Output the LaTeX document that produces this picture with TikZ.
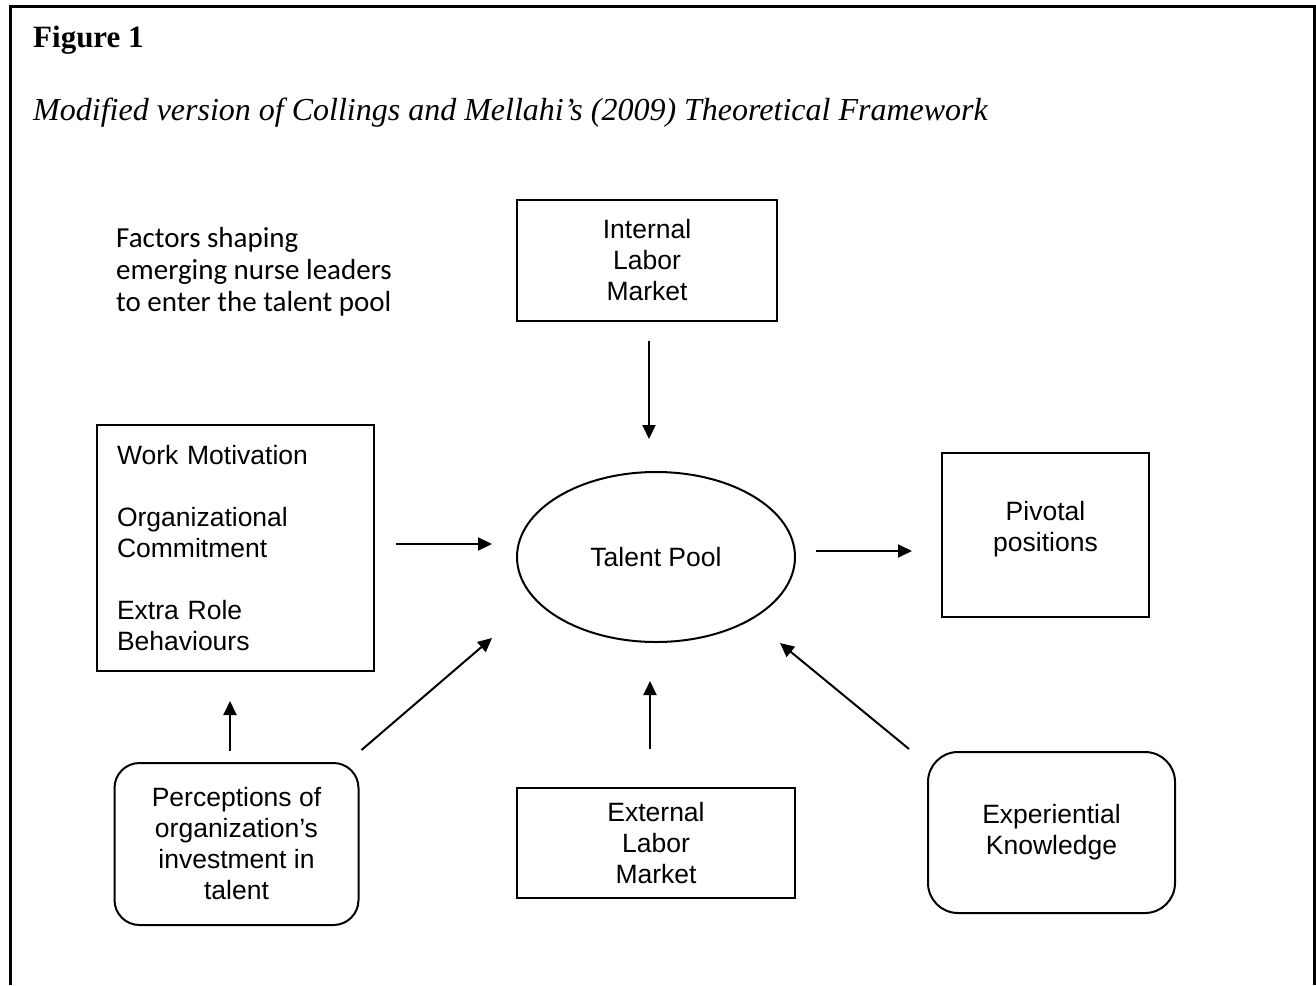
\documentclass[tikz,border=0pt]{standalone}
\usepackage{fontspec}
\setmainfont{Liberation Serif}
\newfontfamily\arialf{Liberation Sans}
\newfontfamily\calibf{Carlito}
\usetikzlibrary{arrows.meta,shapes.geometric}
\begin{document}
\begin{tikzpicture}[x=1pt,y=1pt,
  box/.style={draw, line width=2pt, align=center, inner sep=0pt,
    font=\arialf\fontsize{26.5}{31}\selectfont},
  rbox/.style={box, rounded corners=25pt},
  arr/.style={line width=2pt, -{Triangle[length=14pt,width=13pt]}},
  frame/.style={line width=3pt}
  ]
\useasboundingbox (0,0) rectangle (1316,-985);
\draw[frame] (10,-985) -- (10,-6) -- (1314.5,-6) -- (1314.5,-985);

\node[anchor=base west, inner sep=0pt, font=\bfseries\fontsize{31}{36}\selectfont] (fig) at (33,-47) {Figure 1};
\node[anchor=base west, inner sep=0pt, font=\itshape\fontsize{32}{38}\selectfont] (title) at (33,-120) {Modified version of Collings and Mellahi’s (2009) Theoretical Framework};

\node[anchor=west, align=left, inner sep=0pt, font=\calibf\fontsize{29}{32}\selectfont] (fac) at (116,-272) {Factors shaping\\emerging nurse leaders\\to enter the talent pool};

\node[box, minimum width=260, minimum height=121] (ilm) at (647,-260.5) {Internal\\Labor\\Market};
\node[box, minimum width=277, minimum height=246, align=left, text width=237] (wm) at (235.5,-548) {Work Motivation\\[31pt]Organizational\\Commitment\\[31pt]Extra Role\\Behaviours};
\node[draw, ellipse, line width=2pt, minimum width=278, minimum height=170, inner sep=0pt,
  font=\arialf\fontsize{26.5}{31}\selectfont] (tp) at (656,-557) {Talent Pool};
\node[box, minimum width=207, minimum height=164] (pp) at (1045.5,-535) {Pivotal\\positions\\[-14pt]\mbox{}};
\node[rbox, minimum width=244, minimum height=162] (pc) at (236.5,-844) {Perceptions of\\organization’s\\investment in\\talent};
\node[box, minimum width=278, minimum height=110] (elm) at (656,-843) {External\\Labor\\Market};
\node[rbox, rounded corners=30pt, minimum width=247, minimum height=161] (ek) at (1051.5,-832.5) {Experiential\\Knowledge};

\draw[arr] ([xshift=2pt,yshift=-19pt]ilm.south) -- ([xshift=-7pt,yshift=32pt]tp.north);
\draw[arr] ([xshift=21pt,yshift=4pt]wm.east) -- ([xshift=-24pt,yshift=13pt]tp.west);
\draw[arr] ([xshift=20pt,yshift=6pt]tp.east) -- ([xshift=-29pt,yshift=-16pt]pp.west);
\draw[arr] ([xshift=-6.5pt,yshift=11pt]pc.north) -- ([xshift=-5.5pt,yshift=-29pt]wm.south);
\draw[arr] ([xshift=2pt,yshift=12pt]pc.north east) -- ([xshift=-164pt,yshift=-81pt]tp.center);
\draw[arr] ([xshift=-6pt,yshift=38pt]elm.north) -- ([xshift=-6pt,yshift=-38pt]tp.south);
\draw[arr] ([xshift=-18pt,yshift=2pt]ek.north west) -- ([xshift=124pt,yshift=-86pt]tp.center);
\end{tikzpicture}
\end{document}
